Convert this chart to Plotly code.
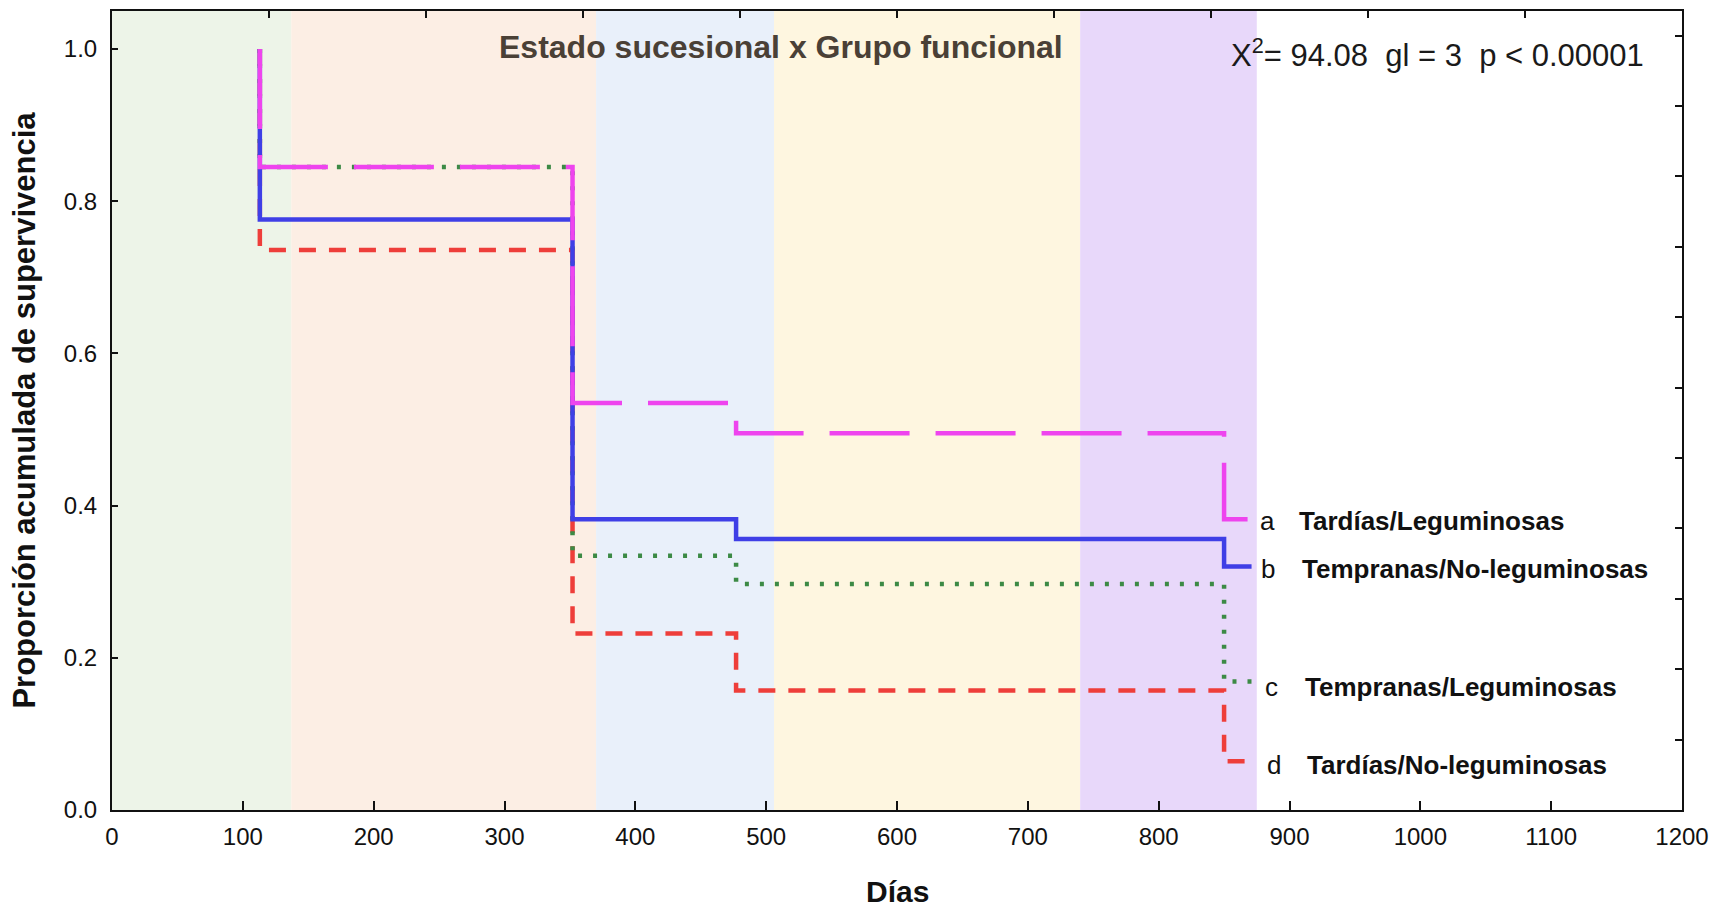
import plotly.graph_objects as go

# ---- data ----
series_names = ["Tardías/Leguminosas", "Tempranas/No-leguminosas",
                "Tempranas/Leguminosas", "Tardías/No-leguminosas"]
series_letters = ["a", "b", "c", "d"]

days_a = [113, 113, 352, 477, 850, 869]
surv_a = [1.0, 0.845, 0.535, 0.495, 0.382, 0.382]

days_b = [113, 113, 352, 477, 850, 871]
surv_b = [1.0, 0.776, 0.382, 0.356, 0.320, 0.320]

days_c = [113, 113, 352, 477, 850, 871]
surv_c = [1.0, 0.845, 0.334, 0.297, 0.169, 0.169]

days_d = [113, 113, 352, 477, 850, 866]
surv_d = [1.0, 0.736, 0.232, 0.157, 0.064, 0.064]

# seasonal background bands (days)
band_starts = [0, 137, 370, 506, 740]
band_ends = [137, 370, 506, 740, 875]
band_colors = ["#EDF4E8", "#FCEEE4", "#E9F0FA", "#FEF6E0", "#E8D8FA"]

x_ticks = list(range(0, 1201, 100))
y_ticks = [0.0, 0.2, 0.4, 0.6, 0.8, 1.0]
y_tick_text = ["0.0", "0.2", "0.4", "0.6", "0.8", "1.0"]

# label placement (layout constants)
label_y = [0.380, 0.317, 0.161, 0.059]
letter_x = [876, 877, 880, 881]
name_x = [906, 908, 910, 912]

FONT = "Liberation Sans, Arial, sans-serif"

fig = go.Figure()

styles = {
    "d": dict(color="#EE3E3A", width=4.5, dash="17px,13px"),
    "c": dict(color="#3C8A45", width=4.5, dash="4px,11px"),
    "b": dict(color="#3F3FE6", width=4.5),
    "a": dict(color="#EE44EE", width=4.5, dash="80px,26px"),
}
data = {"a": (days_a, surv_a), "b": (days_b, surv_b),
        "c": (days_c, surv_c), "d": (days_d, surv_d)}

for key in ["d", "c", "b", "a"]:
    xs, ys = data[key]
    fig.add_trace(go.Scatter(x=xs, y=ys, mode="lines", line_shape="hv",
                             line=styles[key], showlegend=False,
                             hoverinfo="skip"))

# helper trace for the top/right tick axes
fig.add_trace(go.Scatter(x=[None], y=[None], xaxis="x2", yaxis="y2",
                         showlegend=False, hoverinfo="skip"))

shapes = []
for s, e, c in zip(band_starts, band_ends, band_colors):
    shapes.append(dict(type="rect", xref="x", yref="paper", x0=s, x1=e,
                       y0=0, y1=1, fillcolor=c, line_width=0, layer="below"))

annotations = []
for letter, name, yv, lx, nx in zip(series_letters, series_names, label_y,
                                    letter_x, name_x):
    annotations.append(dict(x=lx, y=yv, xref="x", yref="y", text=letter,
                            showarrow=False, xanchor="left",
                            font=dict(family=FONT, size=26, color="#111111")))
    annotations.append(dict(x=nx, y=yv, xref="x", yref="y",
                            text="<b>" + name + "</b>", showarrow=False,
                            xanchor="left",
                            font=dict(family=FONT, size=26, color="#111111")))

annotations.append(dict(x=511, y=1.003, xref="x", yref="y",
                        text="<b>Estado sucesional x Grupo funcional</b>",
                        showarrow=False, xanchor="center", yanchor="middle",
                        font=dict(family=FONT, size=32, color="#4A4036")))
annotations.append(dict(x=1013, y=0.995, xref="x", yref="y",
                        text="X<sup>2</sup>= 94.08  gl = 3  p &lt; 0.00001",
                        showarrow=False, xanchor="center", yanchor="middle",
                        font=dict(family=FONT, size=31, color="#1A1A1A")))
annotations.append(dict(x=-0.056, y=0.5, xref="paper", yref="paper",
                        text="<b>Proporción acumulada de supervivencia</b>",
                        textangle=-90, showarrow=False,
                        xanchor="center", yanchor="middle",
                        font=dict(family=FONT, size=31, color="#111111")))
annotations.append(dict(x=0.5, y=-0.102, xref="paper", yref="paper",
                        text="<b>Días</b>", showarrow=False,
                        xanchor="center", yanchor="middle",
                        font=dict(family=FONT, size=30, color="#111111")))

fig.update_layout(
    width=1715, height=900,
    margin=dict(l=104, r=41, t=3, b=98),
    paper_bgcolor="white", plot_bgcolor="white",
    shapes=shapes, annotations=annotations,
    xaxis=dict(range=[0, 1200], tickvals=x_ticks, ticks="inside",
               ticklen=9, tickwidth=1.5, tickcolor="#111",
               showline=True, linecolor="#111", linewidth=2,
               showgrid=False, zeroline=False,
               tickfont=dict(family=FONT, size=24, color="#111"),
               ticklabelstandoff=4),
    yaxis=dict(range=[0, 1.05], tickvals=y_ticks, ticktext=y_tick_text,
               ticks="inside", ticklen=6, tickwidth=1.5, tickcolor="#111",
               showline=True, linecolor="#111", linewidth=2,
               showgrid=False, zeroline=False,
               tickfont=dict(family=FONT, size=24, color="#111"),
               ticklabelstandoff=8),
    xaxis2=dict(range=[0, 1200], dtick=120, tick0=0, overlaying="x",
                side="top", ticks="inside", ticklen=7, tickwidth=1.5,
                tickcolor="#111", showline=True, linecolor="#111",
                linewidth=2, showgrid=False, zeroline=False,
                showticklabels=False),
    yaxis2=dict(range=[0, 1.135], dtick=0.1, tick0=0, overlaying="y",
                side="right", ticks="inside", ticklen=7, tickwidth=1.5,
                tickcolor="#111", showline=True, linecolor="#111",
                linewidth=2, showgrid=False, zeroline=False,
                showticklabels=False),
)

fig.write_html("out.html")
